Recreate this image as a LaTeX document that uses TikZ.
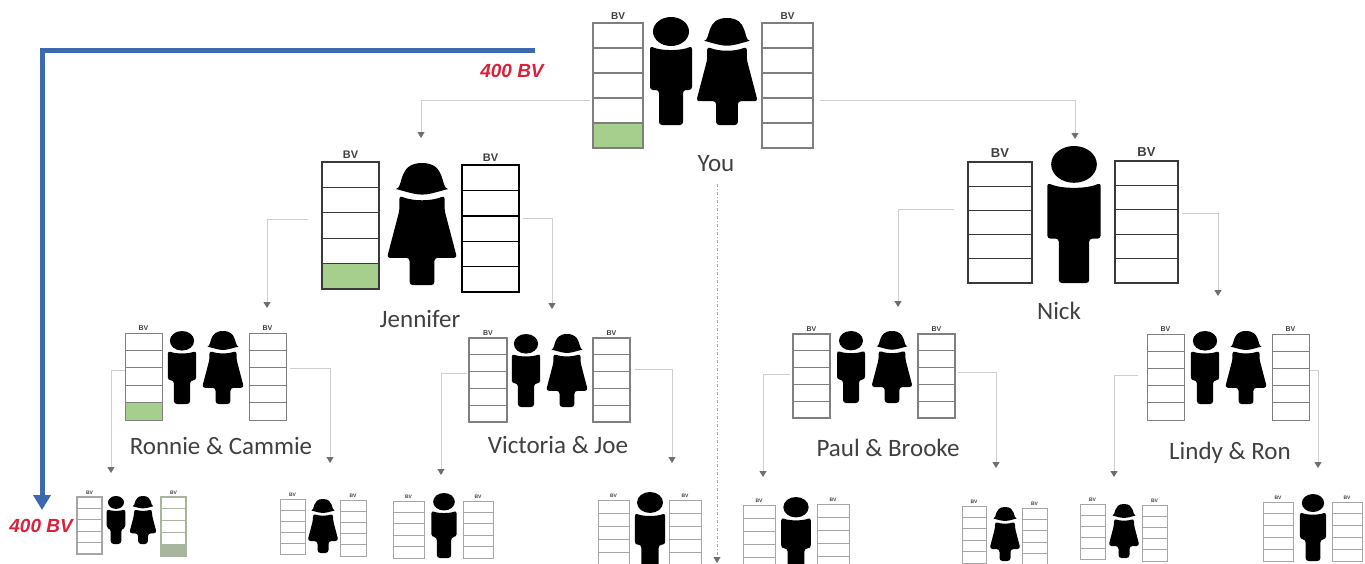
\documentclass[tikz,border=0pt]{standalone}
\usepackage{fontspec}
\setmainfont{Carlito}
\newfontfamily\bvfont{Liberation Sans}
\usetikzlibrary{arrows.meta,calc,positioning}

\definecolor{framegrey}{HTML}{7F7F7F}
\definecolor{framedark}{HTML}{3A3A3A}
\definecolor{framepale}{HTML}{A6A6A6}
\definecolor{levelgreen}{HTML}{A6CF8E}
\definecolor{levelgrey}{HTML}{A9B59E}
\definecolor{linkgrey}{HTML}{CFCFCF}
\definecolor{tipgrey}{HTML}{6E6E6E}
\definecolor{volumeblue}{HTML}{3C68B0}
\definecolor{volumered}{HTML}{D9213B}
\definecolor{namegrey}{HTML}{404040}

\tikzset{
  stackbox/.style={draw,inner sep=0pt,outer sep=0pt},
  bvlabel/.style={inner sep=1pt,text=namegrey},
  namelabel/.style={inner sep=0pt,text=namegrey,font=\fontsize{25}{29}\selectfont},
  volumelabel/.style={inner sep=0pt,text=volumered,font=\bvfont\bfseries\itshape\fontsize{19}{22}\selectfont},
  link/.style={draw=linkgrey,line width=1pt,-{Triangle[length=6pt,width=7pt,color=tipgrey]}},
  volumelink/.style={draw=volumeblue,line width=5pt,-{Triangle[length=15pt,width=17pt]}},
  man/.pic={
    \fill (0,14.5) ellipse [x radius=18,y radius=14.5];
    \fill[rounded corners=3pt] (-21,29) .. controls (-10,34) and (10,34) .. (21,29)
      -- (21,73) -- (12,73) -- (12,108) -- (-12,108) -- (-12,73) -- (-21,73) -- cycle;
  },
  woman/.pic={
    \fill (-23,23) .. controls (-16,22) and (-22,0) .. (0,0) .. controls (22,0) and (16,22) .. (23,23)
      .. controls (12,26) and (6,28) .. (0,28) .. controls (-6,28) and (-12,26) .. (-23,23) -- cycle;
    \fill[rounded corners=3pt] (-20,29) .. controls (-8,34) and (8,34) .. (20,29)
      -- (20,42) -- (31,84) -- (11,84) -- (11,108) -- (-11,108) -- (-11,84) -- (-31,84) -- (-20,42) -- cycle;
  }
}

\begin{document}
\begin{tikzpicture}[x=1pt,y=-1pt]

\clip (0,0) rectangle (1365,563);

\foreach \stackname/\xa/\ya/\xb/\yb/\bvsize/\stackcol/\stackline/\levelfill in {
  youL/593/23/643/148/10/framegrey/1.4/levelgreen,
  youR/762/23/813/148/10/framegrey/1.4/white,
  jenL/322/162/379/289/11/framedark/1.2/levelgreen,
  jenR/462/165/519/292/11/black/1.4/white,
  nickL/968/162/1032/283/13/framedark/1.2/white,
  nickR/1115/161/1178/283/13/framedark/1.2/white,
  ronL/125/333/162/420/7/framegrey/1/levelgreen,
  ronR/249/333/286/420/7/framegrey/1/white,
  vicL/469/338/507/422/7/framegrey/1.2/white,
  vicR/593/338/630/422/7/framegrey/1.2/white,
  paulL/793/334/830/418/7/framegrey/1.2/white,
  paulR/918/334/955/418/7/framegrey/1.2/white,
  lindyL/1147/334/1184/420/7/framegrey/1/white,
  lindyR/1272/334/1309/420/7/framegrey/1/white,
  aL/77/497/102/554/5/framepale/1.2/white,
  aR/161/497/186/556/5/levelgrey/1.2/levelgrey,
  bL/280/499/305/554/5/framepale/0.8/white,
  bR/340/500/366/556/5/framepale/0.8/white,
  cL/393/501/424/558/5/framepale/0.8/white,
  cR/463/501/493/558/5/framepale/0.8/white,
  dL/598/500/629/565/5/framepale/0.8/white,
  dR/669/500/701/565/5/framepale/0.8/white,
  eL/743/505/775/570/5/framepale/0.8/white,
  eR/817/504/849/569/5/framepale/0.8/white,
  fL/962/506/986/563/5/framepale/0.8/white,
  fR/1022/508/1047/565/5/framepale/0.8/white,
  gL/1080/504/1105/559/5/framepale/0.8/white,
  gR/1142/505/1167/561/5/framepale/0.8/white,
  hL/1263/502/1293/561/5/framepale/0.8/white,
  hR/1332/502/1362/561/5/framepale/0.8/white}
    \node[stackbox,draw=\stackcol,line width=\stackline pt,
      minimum width={(\xb-\xa)*1pt},minimum height={(\yb-\ya)*1pt},
      label={[bvlabel,label distance={\bvsize*0.25pt},font=\bvfont\bfseries\fontsize{\bvsize}{\bvsize}\selectfont]above:BV},
      path picture={
        \fill[\levelfill] (path picture bounding box.south west) rectangle
          ($(path picture bounding box.south east)!0.2!(path picture bounding box.north east)$);
        \foreach \i in {0.2,0.4,0.6,0.8}
          \draw[\stackcol,line width=\stackline pt]
            ($(path picture bounding box.south west)!\i!(path picture bounding box.north west)$) --
            ($(path picture bounding box.south east)!\i!(path picture bounding box.north east)$);
      }] (\stackname) at ({(\xa+\xb)/2},{(\ya+\yb)/2}) {};

\foreach \figure/\cx/\ytop/\yfoot in {
  man/671/17/125,
  woman/727/18/125,
  woman/422/163/285,
  man/1074/146/283,
  man/182/331/404,
  woman/223/331/404,
  man/526/334/407,
  woman/567/334/407,
  man/851/331/403,
  woman/892/331/403,
  man/1205/331/404,
  woman/1246/331/404,
  man/116/496/544,
  woman/143/496/544,
  woman/323/499/553,
  man/444/493/558,
  man/650/492/570,
  man/796/497/573,
  woman/1005/507/561,
  woman/1124/504/558,
  man/1313/494/561}
    \pic[scale={(\yfoot-\ytop)/108}] at (\cx,\ytop) {\figure};

\foreach \namenode/\x/\y/\nametext in {
  youName/716/164/You,
  jenName/420/319/Jennifer,
  nickName/1059/311/Nick,
  ronName/221/446/Ronnie \& Cammie,
  vicName/558/445/Victoria \& Joe,
  paulName/888/448/Paul \& Brooke,
  lindyName/1230/453/Lindy \& Ron}
    \node[namelabel] (\namenode) at (\x,\y) {\nametext};

\foreach \stackname/\side/\dx/\dy/\tipx/\tipy in {
  youL/west/-3/14.5/421/138,
  youR/east/7/14.5/1075/139,
  jenL/west/-14/-6.5/267/308,
  jenR/east/4/-10.5/552/309,
  nickL/west/-14/-13.5/898/307,
  nickR/east/4/-9/1218/296,
  ronL/west/0/-6.5/111/473,
  ronR/east/4/-8.5/330/463,
  vicL/west/-2/-7/441/475,
  vicR/east/5/-11/672/463,
  paulL/west/-3/-2/763/477,
  paulR/east/3/-4/996/468,
  lindyL/west/-9/-2/1114/477,
  lindyR/east/1/-7/1318/468}
{
    \coordinate (\stackname tip) at (\tipx,\tipy);
    \draw[link] (\stackname.\side) ++(\dx,\dy) -| (\stackname tip);
}

\coordinate (centerTip) at (717,563);
\draw[link,dash pattern=on 3pt off 2pt on 1pt off 2pt,draw=framepale] (youName.south) ++(1,12) -- (centerTip);

\coordinate (volumeStart) at (535,50);
\coordinate (volumeTip) at (42,510);
\draw[volumelink] (volumeStart) -| (volumeTip);

\node[volumelabel] (volumeTop) at (512,71) {400 BV};
\node[volumelabel,left=4pt of aL] (volumeBottom) {400 BV};

\end{tikzpicture}
\end{document}
